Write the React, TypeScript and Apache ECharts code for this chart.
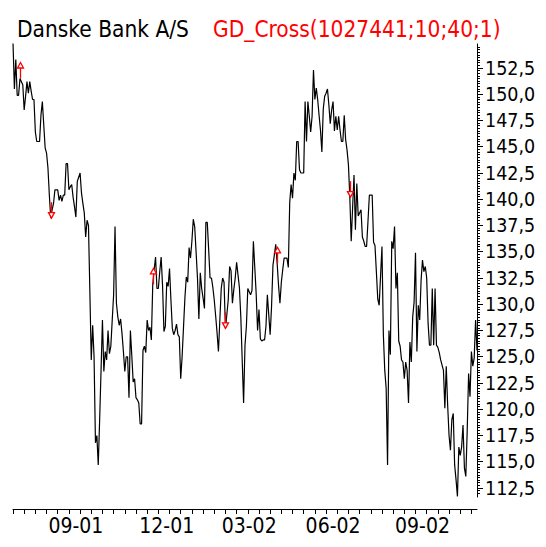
import React, { useEffect, useRef } from "react";
import * as echarts from "echarts";

// Danske Bank A/S daily close, 2001-07-02 .. 2002-10-25
const PRICES: number[] = [
  154.9, 150.5, 153.3, 149.9, 149.9, 151.5, 151.2, 150.9, 148.5, 149.8,
  151.2, 150.1, 151.2, 150.3, 149.5, 149.5, 146.4, 145.5, 145.5, 145.5,
  148.0, 149.3, 147.1, 144.9, 144.4, 143.0, 140.4, 138.2, 139.0, 139.6,
  140.9, 140.9, 140.9, 139.9, 140.4, 139.8, 140.4, 140.4, 143.4, 143.4,
  140.9, 141.2, 141.4, 140.2, 139.3, 138.3, 141.7, 142.1, 142.5, 140.6,
  139.6, 138.7, 136.4, 138.0, 137.5, 131.2, 124.7, 128.0, 125.0, 116.8,
  117.5, 114.7, 119.0, 123.7, 128.5, 123.6, 125.5, 124.7, 127.5, 125.3,
  126.0, 128.5, 130.9, 137.4, 130.1, 128.8, 128.0, 128.6, 127.2, 125.5,
  123.6, 125.0, 125.0, 121.1, 127.5, 125.1, 122.6, 122.9, 121.1, 120.9,
  120.6, 118.6, 118.6, 125.6, 126.0, 125.4, 128.5, 127.5, 127.8, 126.6,
  131.9, 133.3, 134.5, 131.5, 131.5, 133.1, 134.5, 131.8, 127.4, 127.9,
  132.1, 131.7, 133.4, 130.4, 127.7, 127.1, 127.5, 128.1, 127.1, 126.9,
  122.9, 125.0, 127.8, 130.6, 132.6, 132.1, 135.4, 134.4, 136.0, 138.1,
  137.4, 135.0, 132.5, 128.6, 133.0, 131.5, 130.6, 129.6, 137.8, 137.8,
  135.2, 132.5, 132.5, 131.6, 130.4, 128.9, 127.3, 125.5, 128.5, 131.5,
  132.5, 132.1, 127.7, 129.0, 130.4, 133.6, 133.2, 130.1, 131.4, 132.5,
  134.0, 132.8, 131.6, 128.8, 124.7, 120.6, 126.1, 127.9, 131.5, 131.2,
  130.9, 131.3, 136.0, 133.5, 131.0, 127.5, 129.5, 126.7, 126.5, 126.6,
  126.6, 127.9, 130.9, 129.0, 127.1, 129.8, 133.7, 134.7, 135.7, 133.9,
  131.8, 130.1, 132.1, 133.3, 134.4, 134.4, 134.4, 133.5, 139.7, 141.4,
  140.1, 142.5, 141.8, 145.5, 145.5, 142.8, 142.5, 142.5, 142.5, 149.3,
  145.5, 149.3, 147.9, 146.4, 147.9, 152.3, 149.5, 150.6, 149.5, 148.0,
  146.6, 144.5, 148.6, 149.8, 150.1, 150.5, 149.0, 147.2, 148.5, 149.3,
  146.5, 147.9, 146.6, 147.9, 146.6, 145.5, 145.5, 148.0, 145.7, 144.7,
  143.3, 140.2, 136.0, 139.2, 142.3, 137.1, 141.5, 138.4, 138.7, 139.0,
  136.4, 136.0, 135.5, 135.5, 137.9, 140.4, 140.4, 140.4, 135.9, 135.6,
  133.1, 130.5, 129.9, 132.7, 135.5, 127.1, 123.7, 122.0, 114.7, 127.5,
  125.2, 136.0, 135.3, 137.4, 131.5, 133.0, 126.5, 126.0, 124.7, 124.5,
  122.9, 124.5, 123.7, 120.6, 126.4, 124.5, 128.8, 130.2, 134.9, 125.5,
  129.9, 128.5, 132.3, 134.2, 133.1, 133.6, 132.5, 128.2, 126.1, 126.1,
  131.5, 126.1, 131.5, 126.1, 125.9, 125.4, 124.7, 124.2, 123.7, 120.1,
  124.1, 120.4, 117.5, 116.1, 119.0, 119.6, 114.7, 113.3, 111.7, 116.4,
  115.6, 116.4, 118.5, 114.4, 113.6, 118.0, 123.4, 121.2, 125.5, 124.1,
  124.9, 128.5, 125.6,
];

// GD_Cross signals: index into the trading days, 1 = up (buy), -1 = down (sell)
const SIGNAL_INDEX: number[] = [5, 27, 100, 152, 189, 241];
const SIGNAL_DIR: number[] = [1, -1, 1, -1, 1, -1];

// Y-axis tick labels
const Y_LABELS: number[] = [112.5, 115, 117.5, 120, 122.5, 125, 127.5, 130, 132.5, 135, 137.5, 140, 142.5, 145, 147.5, 150, 152.5];

// Danish exchange holidays in the period
const HOLIDAYS: string[] = [
  "2001-12-24", "2001-12-25", "2001-12-26", "2001-12-31", "2002-01-01",
  "2002-03-28", "2002-03-29", "2002-04-01", "2002-04-26", "2002-05-09",
  "2002-05-20", "2002-06-05",
];
const LABEL_MONTHS: string[] = ["03", "06", "09", "12"];

const FONT = "'DejaVu Sans Condensed', 'DejaVu Sans', sans-serif";

function tradingDays(count: number): string[] {
  const out: string[] = [];
  const d = new Date(Date.UTC(2001, 6, 2));
  while (out.length < count) {
    const wd = d.getUTCDay();
    const s = d.toISOString().slice(0, 10);
    if (wd !== 0 && wd !== 6 && HOLIDAYS.indexOf(s) < 0) out.push(s);
    d.setUTCDate(d.getUTCDate() + 1);
  }
  return out;
}

export default function App() {
  const ref = useRef<HTMLDivElement>(null);
  useEffect(() => {
    if (!ref.current) return;
    const chart = echarts.init(ref.current, undefined, { renderer: "svg" });
    const dates = tradingDays(PRICES.length);
    const labelIdx = new Set<number>();
    for (let i = 1; i < dates.length; i++) {
      const m = dates[i].slice(5, 7);
      if (m !== dates[i - 1].slice(5, 7) && LABEL_MONTHS.indexOf(m) >= 0) labelIdx.add(i);
    }
    const yMax = 152.5 + 24 / 10.5;
    const yMin = 112.5 - 9 / 10.5;
    const minorTicks: number[] = [];
    for (let v = 112.0; v <= 154.5; v += 0.25) minorTicks.push(Math.round(v * 100) / 100);
    const signals = SIGNAL_INDEX.map((idx, k) => [idx, PRICES[idx], SIGNAL_DIR[k]]);

    chart.setOption({
      animation: false,
      backgroundColor: "#fff",
      title: [
        {
          text: "Danske Bank A/S",
          left: 12,
          top: 12,
          textStyle: { fontFamily: FONT, fontSize: 22.5, fontWeight: "normal", color: "#000" },
        },
        {
          text: "GD_Cross(1027441;10;40;1)",
          left: 208,
          top: 12,
          textStyle: { fontFamily: FONT, fontSize: 22.5, fontWeight: "normal", color: "#ff0000" },
        },
      ],
      grid: { left: 13, right: 69, top: 44, bottom: 50 },
      xAxis: {
        type: "category",
        data: dates,
        boundaryGap: false,
        offset: 12,
        axisLine: { show: true, lineStyle: { color: "#000", width: 1 } },
        axisTick: {
          show: true,
          interval: (i: number) => i % 8 === 0,
          length: 5,
          lineStyle: { color: "#000" },
        },
        axisLabel: {
          interval: (i: number) => labelIdx.has(i),
          formatter: (v: string) => v.slice(5, 7) + "-" + v.slice(2, 4),
          fontFamily: FONT,
          fontSize: 21,
          color: "#000",
          margin: 6,
        },
        splitLine: { show: false },
      },
      yAxis: [
        {
          type: "value",
          position: "right",
          min: yMin,
          max: yMax,
          axisLine: { show: true, lineStyle: { color: "#000", width: 1 } },
          axisTick: {
            show: true,
            inside: false,
            length: 3,
            customValues: minorTicks.filter((v) => v > yMin && v < yMax),
            lineStyle: { color: "#000" },
          },
          axisLabel: {
            customValues: Y_LABELS,
            formatter: (v: number) => v.toFixed(1).replace(".", ","),
            fontFamily: FONT,
            fontSize: 19.5,
            color: "#000",
            margin: 8,
          },
          splitLine: { show: false },
        },
        {
          type: "value",
          position: "right",
          min: yMin,
          max: yMax,
          axisLine: { show: false },
          axisTick: {
            show: true,
            inside: false,
            length: 6,
            customValues: Y_LABELS,
            lineStyle: { color: "#000" },
          },
          axisLabel: { show: false },
          splitLine: { show: false },
        },
      ],
      series: [
        {
          type: "line",
          data: PRICES,
          symbol: "none",
          lineStyle: { color: "#000", width: 1.2 },
          clip: true,
        },
        {
          type: "custom",
          data: signals,
          renderItem: (params: any, api: any) => {
            const p = api.coord([api.value(0), api.value(1)]);
            const dir = api.value(2);
            const x = Math.round(p[0]) + 0.5;
            const y = p[1];
            const style = { stroke: "#ff0000", fill: "#fff", lineWidth: 1.3 };
            if (dir > 0) {
              return {
                type: "group",
                children: [
                  { type: "line", shape: { x1: x, y1: y, x2: x, y2: y - 11 }, style },
                  { type: "polygon", shape: { points: [[x - 3, y - 10.5], [x, y - 16], [x + 3, y - 10.5]] }, style },
                ],
              };
            }
            return {
              type: "group",
              children: [
                { type: "line", shape: { x1: x, y1: y - 16, x2: x, y2: y - 5 }, style },
                { type: "polygon", shape: { points: [[x - 3, y - 5.5], [x, y], [x + 3, y - 5.5]] }, style },
              ],
            };
          },
          z: 5,
        },
      ],
    });
    return () => chart.dispose();
  }, []);
  return (
    <div
      ref={ref}
      style={{ position: "absolute", left: 0, top: 0, width: 546, height: 547, background: "#fff" }}
    />
  );
}
